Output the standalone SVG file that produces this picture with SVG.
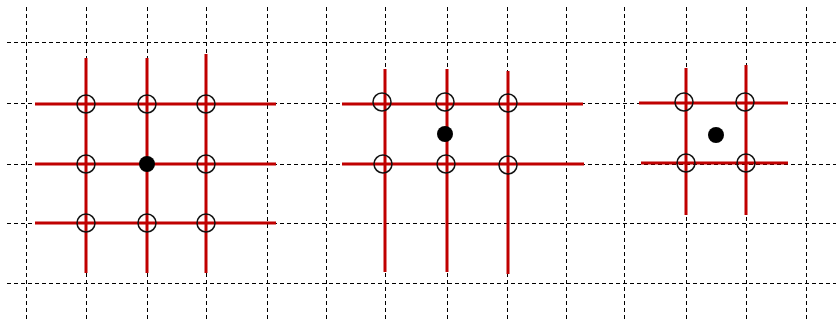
<svg xmlns="http://www.w3.org/2000/svg" width="836" height="322" viewBox="0 0 836 322">
<style>
.grid{stroke:#000;stroke-width:1;stroke-dasharray:4,3;fill:none}
.red{stroke:#c00000;stroke-width:3;fill:none}
.ring{stroke:#111;stroke-width:1.5;fill:none}
.dot{fill:#000}
</style>
<rect width="836" height="322" fill="#fff"/>
<g id="grid">
<line class="grid" x1="7" y1="42.5" x2="836" y2="42.5"/>
<line class="grid" x1="7" y1="103.5" x2="836" y2="103.5"/>
<line class="grid" x1="7" y1="164.5" x2="836" y2="164.5"/>
<line class="grid" x1="7" y1="223.5" x2="836" y2="223.5"/>
<line class="grid" x1="7" y1="283.5" x2="836" y2="283.5"/>
<line class="grid" x1="26.5" y1="7" x2="26.5" y2="322"/>
<line class="grid" x1="86.5" y1="7" x2="86.5" y2="322"/>
<line class="grid" x1="147.5" y1="7" x2="147.5" y2="322"/>
<line class="grid" x1="206.5" y1="7" x2="206.5" y2="322"/>
<line class="grid" x1="267.5" y1="7" x2="267.5" y2="322"/>
<line class="grid" x1="326.5" y1="7" x2="326.5" y2="322"/>
<line class="grid" x1="385.5" y1="7" x2="385.5" y2="322"/>
<line class="grid" x1="447.5" y1="7" x2="447.5" y2="322"/>
<line class="grid" x1="507.5" y1="7" x2="507.5" y2="322"/>
<line class="grid" x1="566.5" y1="7" x2="566.5" y2="322"/>
<line class="grid" x1="624.5" y1="7" x2="624.5" y2="322"/>
<line class="grid" x1="686.5" y1="7" x2="686.5" y2="322"/>
<line class="grid" x1="746.5" y1="7" x2="746.5" y2="322"/>
<line class="grid" x1="806.5" y1="7" x2="806.5" y2="322"/>
</g>
<g id="panel1">
<line class="red" x1="86" y1="58" x2="86" y2="273"/>
<line class="red" x1="147" y1="58" x2="147" y2="273"/>
<line class="red" x1="206" y1="54" x2="206" y2="273"/>
<line class="red" x1="35" y1="104" x2="276" y2="104"/>
<line class="red" x1="35" y1="164" x2="276" y2="164"/>
<line class="red" x1="35" y1="223" x2="276" y2="223"/>
<circle class="ring" cx="86" cy="104" r="9"/>
<circle class="ring" cx="147" cy="104" r="9"/>
<circle class="ring" cx="206" cy="104" r="9"/>
<circle class="ring" cx="86" cy="164" r="9"/>
<circle class="ring" cx="206" cy="164" r="9"/>
<circle class="ring" cx="86" cy="223" r="9"/>
<circle class="ring" cx="147" cy="223" r="9"/>
<circle class="ring" cx="206" cy="223" r="9"/>
<circle class="dot" cx="147" cy="164" r="8"/>
</g>
<g id="panel2">
<line class="red" x1="385" y1="69" x2="385" y2="272"/>
<line class="red" x1="447" y1="69" x2="447" y2="272"/>
<line class="red" x1="508" y1="71" x2="508" y2="274"/>
<line class="red" x1="342" y1="104" x2="583" y2="104"/>
<line class="red" x1="342" y1="164" x2="584" y2="164"/>
<circle class="ring" cx="382" cy="102" r="9"/>
<circle class="ring" cx="445" cy="102" r="9"/>
<circle class="ring" cx="508" cy="103" r="9"/>
<circle class="ring" cx="383" cy="164" r="9"/>
<circle class="ring" cx="446" cy="164" r="9"/>
<circle class="ring" cx="508" cy="165" r="9"/>
<circle class="dot" cx="445" cy="134" r="8"/>
</g>
<g id="panel3">
<line class="red" x1="686" y1="68" x2="686" y2="215"/>
<line class="red" x1="746" y1="65" x2="746" y2="215"/>
<line class="red" x1="639" y1="103" x2="788" y2="103"/>
<line class="red" x1="641" y1="163" x2="788" y2="163"/>
<circle class="ring" cx="684" cy="102" r="9"/>
<circle class="ring" cx="745" cy="102" r="9"/>
<circle class="ring" cx="686" cy="163" r="9"/>
<circle class="ring" cx="746" cy="163" r="9"/>
<circle class="dot" cx="716" cy="135" r="8"/>
</g>
</svg>
